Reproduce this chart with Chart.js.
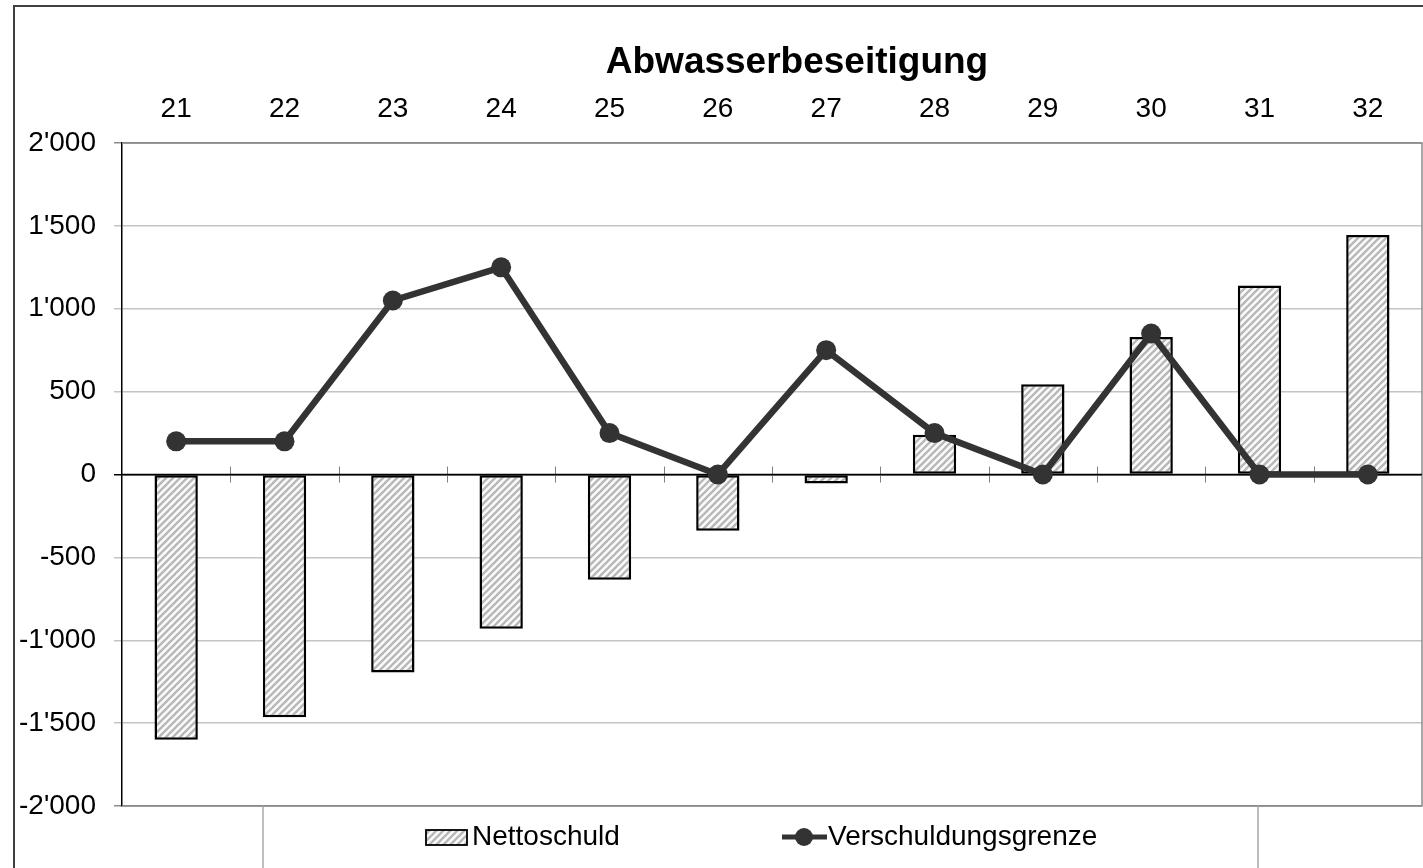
<!DOCTYPE html>
<html>
<head>
<meta charset="utf-8">
<script src="https://cdn.jsdelivr.net/npm/chart.js@4/dist/chart.umd.min.js"></script>
<style>
  html, body { margin: 0; padding: 0; background: #fff; }
  #wrap { width: 1423px; height: 868px; position: relative; }
</style>
</head>
<body>
<div id="wrap"><canvas id="c" width="1423" height="868"></canvas></div>
<script>
// ---- data ----
const chartTitle = 'Abwasserbeseitigung';
const categories = ['21', '22', '23', '24', '25', '26', '27', '28', '29', '30', '31', '32'];
const nettoschuld = [-1600, -1465, -1195, -930, -635, -340, -55, 240, 545, 830, 1140, 1445];
const verschuldungsgrenze = [200, 200, 1050, 1250, 250, 0, 750, 250, 0, 850, 0, 0];
const seriesNames = ['Nettoschuld', 'Verschuldungsgrenze'];
const yMin = -2000, yMax = 2000, yStep = 500;

const FONT = '"Liberation Sans", Arial, sans-serif';
const LINE_COLOR = '#333333';

function makeHatch() {
  const s = 7;
  const p = document.createElement('canvas');
  p.width = s; p.height = s;
  const g = p.getContext('2d');
  g.fillStyle = '#fafafa';
  g.fillRect(0, 0, s, s);
  g.strokeStyle = '#b8b8b8';
  g.lineWidth = 2.3;
  g.beginPath();
  g.moveTo(-2, s + 2); g.lineTo(s + 2, -2);
  g.moveTo(-2, 2); g.lineTo(2, -2);
  g.moveTo(s - 2, s + 2); g.lineTo(s + 2, s - 2);
  g.stroke();
  return document.getElementById('c').getContext('2d').createPattern(p, 'repeat');
}
const hatch = makeHatch();

function fmt(v) {
  const s = Math.abs(v).toString().replace(/\B(?=(\d{3})+(?!\d))/g, "'");
  return (v < 0 ? '-' : '') + s;
}

const decorPlugin = {
  id: 'decor',
  beforeDatasetsDraw(chart) {
    const { ctx, chartArea: a, scales: { x, y } } = chart;
    ctx.save();
    // plot frame (gray)
    ctx.strokeStyle = '#8c8c8c';
    ctx.lineWidth = 1.5;
    ctx.beginPath();
    ctx.moveTo(a.left, a.top); ctx.lineTo(a.right, a.top); ctx.lineTo(a.right, a.bottom); ctx.lineTo(a.left, a.bottom);
    ctx.stroke();
    // zero line with category-boundary ticks
    const y0 = y.getPixelForValue(0);
    const half = (x.getPixelForValue(1) - x.getPixelForValue(0)) / 2;
    ctx.strokeStyle = '#808080';
    ctx.lineWidth = 1;
    ctx.beginPath();
    for (let i = 1; i < categories.length; i++) {
      const bx = Math.round(x.getPixelForValue(i) - half) + 0.5;
      ctx.moveTo(bx, y0 - 8); ctx.lineTo(bx, y0 + 8);
    }
    ctx.stroke();
    ctx.strokeStyle = '#000';
    ctx.lineWidth = 1.5;
    ctx.beginPath();
    ctx.moveTo(a.left, y0); ctx.lineTo(a.right, y0);
    ctx.stroke();
    ctx.restore();
  },
  afterDraw(chart) {
    const { ctx, chartArea: a, width, height } = chart;
    ctx.save();
    // outer border
    ctx.strokeStyle = '#404040';
    ctx.lineWidth = 2;
    ctx.strokeRect(14, 6, width + 20, height + 20);
    // title
    ctx.fillStyle = '#000';
    ctx.font = 'bold 37px ' + FONT;
    ctx.textAlign = 'center';
    ctx.textBaseline = 'alphabetic';
    ctx.fillText(chartTitle, 797, 73);
    // legend frame sides
    ctx.strokeStyle = '#a8a8a8';
    ctx.lineWidth = 1.5;
    ctx.beginPath();
    ctx.moveTo(263, a.bottom); ctx.lineTo(263, height);
    ctx.moveTo(1258, a.bottom); ctx.lineTo(1258, height);
    ctx.stroke();
    // legend item 1: hatched box
    const ly = 837;
    ctx.fillStyle = hatch;
    ctx.fillRect(426, 830, 41, 15);
    ctx.strokeStyle = '#000';
    ctx.lineWidth = 1.8;
    ctx.strokeRect(426, 830, 41, 15);
    ctx.fillStyle = '#000';
    ctx.font = '28px ' + FONT;
    ctx.textAlign = 'left';
    ctx.textBaseline = 'middle';
    ctx.fillText(chart.data.datasets[1].label, 472, ly);
    // legend item 2: line with marker
    ctx.strokeStyle = LINE_COLOR;
    ctx.lineWidth = 5;
    ctx.beginPath();
    ctx.moveTo(782, ly); ctx.lineTo(827, ly);
    ctx.stroke();
    ctx.fillStyle = LINE_COLOR;
    ctx.beginPath();
    ctx.arc(804, ly, 9, 0, Math.PI * 2);
    ctx.fill();
    ctx.fillStyle = '#000';
    ctx.fillText(chart.data.datasets[0].label, 828, ly);
    ctx.restore();
  }
};

new Chart(document.getElementById('c'), {
  data: {
    labels: categories,
    datasets: [
      {
        type: 'line',
        label: seriesNames[1],
        data: verschuldungsgrenze,
        borderColor: LINE_COLOR,
        borderWidth: 6.5,
        pointRadius: 10,
        pointBackgroundColor: LINE_COLOR,
        pointBorderWidth: 0,
        tension: 0,
        order: 0
      },
      {
        type: 'bar',
        label: seriesNames[0],
        data: nettoschuld,
        backgroundColor: hatch,
        borderColor: '#000',
        borderWidth: 2.5,
        borderSkipped: false,
        barPercentage: 0.4,
        categoryPercentage: 1.0,
        order: 1
      }
    ]
  },
  options: {
    responsive: false,
    animation: false,
    devicePixelRatio: 1,
    layout: { autoPadding: false, padding: { left: 0, top: 0, right: 1, bottom: 62 } },
    plugins: {
      legend: { display: false },
      title: { display: false },
      tooltip: { enabled: false }
    },
    scales: {
      x: {
        position: 'top',
        offset: true,
        grid: { display: false, drawTicks: false },
        border: { display: false },
        ticks: { color: '#000', font: { family: FONT, size: 28 }, padding: 17, maxRotation: 0 },
        afterFit(s) { s.height = 143; }
      },
      y: {
        min: yMin, max: yMax,
        ticks: {
          stepSize: yStep,
          color: '#000',
          font: { family: FONT, size: 28 },
          padding: 18,
          callback: v => fmt(v)
        },
        grid: {
          tickLength: 8,
          lineWidth: 1.5,
          color: c => {
            const v = c.tick ? c.tick.value : null;
            if (v === 0) return '#000';
            if (v === yMax || v === yMin) return '#8c8c8c';
            return '#c4c4c4';
          }
        },
        border: { color: '#000', width: 1.5 },
        afterFit(s) { s.width = 122; }
      }
    }
  },
  plugins: [decorPlugin]
});
</script>
</body>
</html>
